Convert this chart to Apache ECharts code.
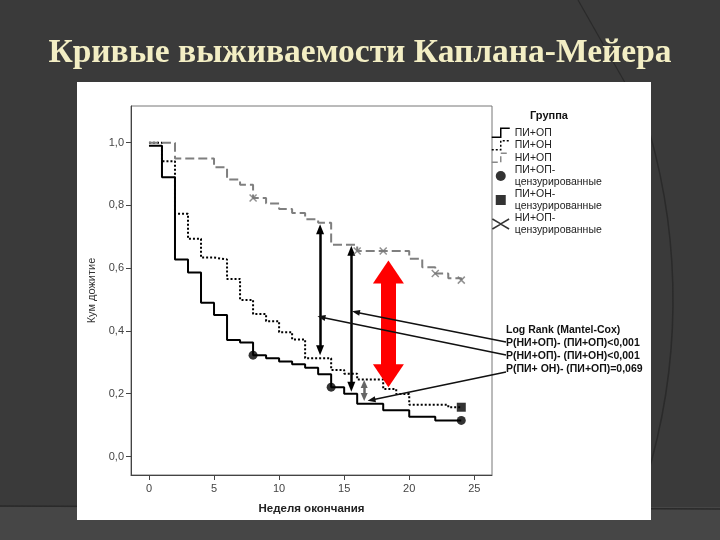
<!DOCTYPE html>
<html>
<head>
<meta charset="utf-8">
<script src="https://cdn.jsdelivr.net/npm/echarts@6/dist/echarts.min.js"></script>
<style>
  html, body { margin: 0; padding: 0; background: #3a3a3a; }
  #chart { width: 720px; height: 540px; }
</style>
</head>
<body>
<div id="chart"></div>
<script>
// ---- data ----
var groupNames = ["ПИ+ОП", "ПИ+ОН", "НИ+ОП"];
var censorNames = [
  "ПИ+ОП-\nцензурированные",
  "ПИ+ОН-\nцензурированные",
  "НИ+ОП-\nцензурированные"
];

// ПИ+ОП (solid black)
var weeksPiOp = [0, 1, 2, 3, 4, 5, 6, 7, 8, 9, 10, 11, 12, 13, 14, 15, 16, 18, 20, 22, 24];
var survPiOp = [0.99, 0.89, 0.628, 0.586, 0.49, 0.451, 0.371, 0.363, 0.323, 0.313, 0.303, 0.294, 0.283, 0.262, 0.221, 0.2, 0.168, 0.147, 0.127, 0.115, 0.115];

// ПИ+ОН (dotted black)
var weeksPiOn = [0, 1, 2, 3, 4, 5, 6, 7, 8, 9, 10, 11, 12, 14, 15, 16, 18, 19, 20, 23, 24];
var survPiOn = [1.0, 0.941, 0.774, 0.694, 0.634, 0.628, 0.566, 0.499, 0.454, 0.431, 0.396, 0.373, 0.313, 0.276, 0.264, 0.245, 0.215, 0.199, 0.165, 0.157, 0.157];

// НИ+ОП (dashed grey)
var weeksNiOp = [0, 2, 5, 6, 7, 8, 9, 10, 11, 12, 13, 14, 16, 20, 21, 22, 23, 24];
var survNiOp = [1.0, 0.95, 0.922, 0.883, 0.866, 0.824, 0.806, 0.789, 0.776, 0.756, 0.745, 0.675, 0.655, 0.63, 0.603, 0.583, 0.568, 0.562];

// censored observations
var censPiOp = [[8, 0.323], [14, 0.221], [24, 0.115]];
var censPiOn = [[24, 0.157]];
var censNiOp = [[8, 0.824], [16, 0.655], [18, 0.655], [22, 0.583], [24, 0.562]];

// comparison arrows: [week, low tip, high tip]
var arrowNiPiOn = [13.15, 0.323, 0.74];
var arrowNiPiOp = [15.55, 0.206, 0.672];
var arrowPiOnPiOp = [16.54, 0.177, 0.244];
var arrowRed = [18.4, 0.221, 0.625];

// where the pointer lines from the Log Rank text end
var pointerEnds = [[15.9, 0.46], [13.25, 0.444], [17.1, 0.18]];

var xTicks = [0, 5, 10, 15, 20, 25];
var yTicks = [0, 0.2, 0.4, 0.6, 0.8, 1.0];

var logRankLines = [
  "Log Rank (Mantel-Cox)",
  "Р(НИ+ОП)- (ПИ+ОП)<0,001",
  "Р(НИ+ОП)- (ПИ+ОН)<0,001",
  "Р(ПИ+ ОН)- (ПИ+ОП)=0,069"
];

// ---- layout ----
var gridBox = { left: 131, top: 106, width: 361, height: 369 };
var xMin = -1.38, xMax = 26.36;
var yMin = -0.059, yMax = 1.117;
var pxPerY = gridBox.height / (yMax - yMin);

function pairs(xs, ys) {
  return xs.map(function (x, i) { return [x, ys[i]]; });
}

// markLine symbols are centred on the line end, so pull the ends in by half a head
function doubleArrow(a, color, width, head) {
  var off = head[1] / 2 / pxPerY;
  return [
    { coord: [a[0], a[1] + off], symbol: "triangle", symbolSize: head,
      lineStyle: { color: color, width: width, type: "solid" } },
    { coord: [a[0], a[2] - off], symbol: "triangle", symbolSize: head }
  ];
}

function pointer(px, py, end) {
  return [
    { x: px, y: py, symbol: "none", lineStyle: { color: "#111", width: 1.5, type: "solid" } },
    { coord: end, symbol: "triangle", symbolSize: [6, 8] }
  ];
}

var font = "Liberation Sans, Arial, sans-serif";
var stepIcon = "path://M0,10 L9,10 L9,1 L18,1";

// legend entries styled like the SPSS key: step lines, then censor marks
var legendItems = [
  { name: groupNames[0], icon: stepIcon,
    itemStyle: { color: "transparent", borderColor: "#000", borderWidth: 1.5, borderType: "solid" } },
  { name: groupNames[1], icon: stepIcon,
    itemStyle: { color: "transparent", borderColor: "#000", borderWidth: 1.5, borderType: [2, 2] } },
  { name: groupNames[2], icon: stepIcon,
    itemStyle: { color: "transparent", borderColor: "#888", borderWidth: 1.5, borderType: [6, 3] } },
  { name: censorNames[0], icon: "circle", itemStyle: { color: "#000" } },
  { name: censorNames[1], icon: "path://M0,0 L10,0 L10,10 L0,10 Z", itemStyle: { color: "#000" } },
  { name: censorNames[2], icon: "path://M0,0 L10,6 L20,0 M0,12 L10,6 L20,12",
    itemStyle: { color: "transparent", borderColor: "#000", borderWidth: 1.5 } }
];

var chart = echarts.init(document.getElementById("chart"));

chart.setOption({
  backgroundColor: "#3a3a3a",
  animation: false,
  title: {
    text: "Кривые выживаемости Каплана-Мейера",
    left: "center",
    top: 31,
    textStyle: {
      fontFamily: "Liberation Serif, serif",
      fontWeight: "bold",
      fontSize: 33.5,
      color: "#f3eec4"
    }
  },
  graphic: {
    elements: [
      { type: "rect", z: -30, shape: { x: 0, y: 507, width: 720, height: 33 }, style: { fill: "#464646" } },
      { type: "line", z: -29, shape: { x1: 0, y1: 506, x2: 720, y2: 509 }, style: { stroke: "#2a2a2a", lineWidth: 1.5 } },
      { type: "line", z: -29, shape: { x1: 578, y1: 0, x2: 632, y2: 95 }, style: { stroke: "#2a2a2a", lineWidth: 1.2 } },
      { type: "arc", z: -29, shape: { cx: 61, cy: 300, r: 612, startAngle: -0.28, endAngle: 0.3 },
        style: { stroke: "#2a2a2a", lineWidth: 1.5, fill: null } },
      { type: "rect", z: -20, shape: { x: 77, y: 82, width: 574, height: 438 }, style: { fill: "#ffffff" } },
      { type: "text", z: 10, left: 530, top: 110,
        style: { text: "Группа", font: "bold 11px " + font, fill: "#111" } },
      { type: "text", z: 10, left: 506, top: 324,
        style: { text: logRankLines.join("\n"), font: "bold 10.5px " + font, lineHeight: 13, fill: "#111" } }
    ]
  },
  legend: {
    data: legendItems,
    orient: "vertical",
    left: 491,
    top: 127,
    padding: 0,
    itemWidth: 18,
    itemHeight: 10,
    itemGap: 1,
    symbolKeepAspect: true,
    selectedMode: false,
    textStyle: { fontFamily: font, fontSize: 10.5, lineHeight: 11.5, color: "#222" }
  },
  grid: {
    left: gridBox.left,
    top: gridBox.top,
    width: gridBox.width,
    height: gridBox.height,
    show: true,
    backgroundColor: "#ffffff",
    borderColor: "#777",
    borderWidth: 1
  },
  xAxis: {
    type: "value",
    min: xMin,
    max: xMax,
    name: "Неделя окончания",
    nameLocation: "middle",
    nameGap: 28,
    nameTextStyle: { fontFamily: font, fontSize: 11.5, fontWeight: "bold", color: "#222" },
    axisLine: { show: true, onZero: false, lineStyle: { color: "#444" } },
    axisTick: { show: true, length: 5, customValues: xTicks, lineStyle: { color: "#444" } },
    axisLabel: { customValues: xTicks, margin: 8, fontFamily: font, fontSize: 11, color: "#444" },
    splitLine: { show: false }
  },
  yAxis: {
    type: "value",
    min: yMin,
    max: yMax,
    name: "Кум дожитие",
    nameLocation: "middle",
    nameGap: 34,
    nameTextStyle: { fontFamily: font, fontSize: 11, color: "#333" },
    axisLine: { show: true, onZero: false, lineStyle: { color: "#444" } },
    axisTick: { show: true, length: 5, customValues: yTicks, lineStyle: { color: "#444" } },
    axisLabel: {
      customValues: yTicks,
      margin: 7,
      fontFamily: font,
      fontSize: 11,
      color: "#444",
      formatter: function (v) { return v.toFixed(1).replace(".", ","); }
    },
    splitLine: { show: false }
  },
  series: [
    {
      name: groupNames[0], type: "line", step: "end", symbol: "none", z: 4,
      data: pairs(weeksPiOp, survPiOp),
      itemStyle: { color: "#000" },
      lineStyle: { color: "#000", width: 2, type: "solid" }
    },
    {
      name: groupNames[1], type: "line", step: "end", symbol: "none", z: 3,
      data: pairs(weeksPiOn, survPiOn),
      itemStyle: { color: "#000" },
      lineStyle: { color: "#000", width: 2, type: [2, 2] }
    },
    {
      name: groupNames[2], type: "line", step: "end", symbol: "none", z: 3,
      data: pairs(weeksNiOp, survNiOp),
      itemStyle: { color: "#7f7f7f" },
      lineStyle: { color: "#7f7f7f", width: 2, type: [9, 4] }
    },
    {
      name: censorNames[0], type: "scatter", symbol: "circle", symbolSize: 9, z: 5,
      data: censPiOp,
      itemStyle: { color: "#000" }
    },
    {
      name: censorNames[1], type: "scatter", symbol: "rect", symbolSize: 9, z: 5,
      data: censPiOn,
      itemStyle: { color: "#000" }
    },
    {
      name: censorNames[2], type: "scatter", symbol: "path://M0,0 L10,10 M10,0 L0,10", symbolSize: 7, z: 5,
      data: censNiOp,
      itemStyle: { color: "#777", borderColor: "#777", borderWidth: 1.5 }
    },
    {
      name: "annotations", type: "line", data: [], z: 6, clip: false,
      markLine: {
        silent: true,
        animation: false,
        symbol: ["none", "none"],
        label: { show: false },
        emphasis: { disabled: true },
        data: [
          doubleArrow(arrowNiPiOn, "#000", 2.5, [8, 10]),
          doubleArrow(arrowNiPiOp, "#000", 2.5, [8, 10]),
          doubleArrow(arrowPiOnPiOp, "#666", 2.5, [7, 8]),
          doubleArrow(arrowRed, "#ff0000", 15, [31, 23]),
          pointer(506, 342, pointerEnds[0]),
          pointer(506, 355, pointerEnds[1]),
          pointer(506, 372, pointerEnds[2])
        ]
      }
    }
  ]
});
</script>
</body>
</html>
